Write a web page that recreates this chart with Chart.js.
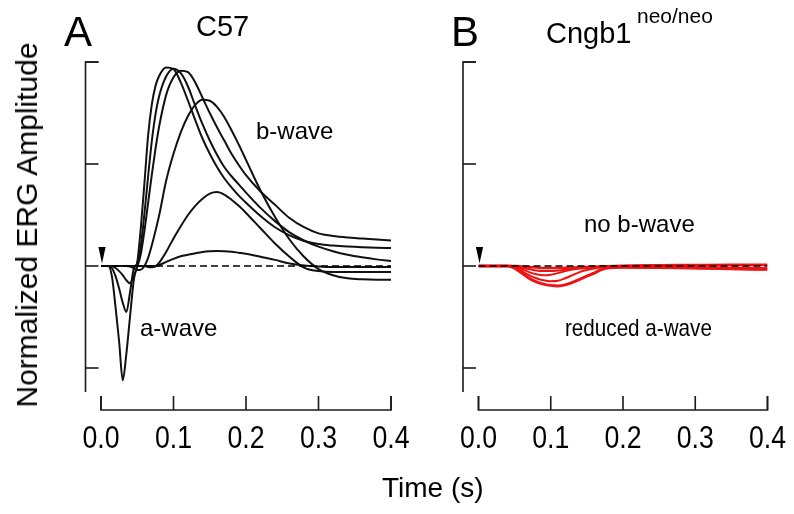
<!DOCTYPE html>
<html><head><meta charset="utf-8">
<script src="https://cdn.jsdelivr.net/npm/chart.js@4.4.1/dist/chart.umd.min.js"></script>
<style>
html,body{margin:0;padding:0;background:#fff;}
#wrap{position:relative;width:794px;height:514px;overflow:hidden;font-family:"Liberation Sans",Arial,sans-serif;color:#000;}
canvas{position:absolute;left:0;top:0;}
.t{position:absolute;white-space:nowrap;line-height:1;}
</style></head><body>
<div id="wrap">
<canvas id="cA" width="794" height="514"></canvas>
<canvas id="cB" width="794" height="514"></canvas>
<div class="t" style="left:64px;top:11px;font-size:42px">A</div>
<div class="t" style="left:196px;top:12px;font-size:29px">C57</div>
<div class="t" style="left:451px;top:11px;font-size:42px">B</div>
<div class="t" style="left:546px;top:19px;font-size:29px">Cngb1</div>
<div class="t" style="left:637px;top:5px;font-size:21px">neo/neo</div>
<div class="t" style="left:256px;top:119px;font-size:24px">b-wave</div>
<div class="t" style="left:140px;top:316px;font-size:24px">a-wave</div>
<div class="t" style="left:584px;top:212px;font-size:24px">no b-wave</div>
<div class="t" style="left:565px;top:316px;font-size:24px;transform:scaleX(0.86);transform-origin:0 0;">reduced a-wave</div>
<div class="t" style="left:382px;top:474px;font-size:28px">Time (s)</div>
<div class="t" style="left:26.6px;top:225px;font-size:30px;transform:translate(-50%,-50%) rotate(-90deg);">Normalized ERG Amplitude</div>
</div>
<script>
// ---- data ----
const xTicks = [0, 0.1, 0.2, 0.3, 0.4];
const xTickLabels = ['0.0', '0.1', '0.2', '0.3', '0.4'];
const yTicks = [-1, 0, 1, 2];
const stimTime = 0;
const baselineT = [0, 0.4];
const baselineV = [0, 0];

// Panel A: C57 (time in s, normalized amplitude)
const tA = [0, 0.01, 0.015, 0.02, 0.025, 0.03, 0.035, 0.04, 0.045, 0.05,
  0.055, 0.06, 0.065, 0.07, 0.075, 0.08, 0.09, 0.10, 0.11, 0.12,
  0.13, 0.14, 0.15, 0.16, 0.17, 0.18, 0.19, 0.20,
  0.22, 0.24, 0.26, 0.28, 0.30, 0.32, 0.34, 0.36, 0.38, 0.40];
const c57_1 = [0, 0, -0.10, -0.40, -0.74, -1.12, -0.86, -0.50, -0.15, 0.03,
  0.38, 0.82, 1.28, 1.58, 1.76, 1.86, 1.945, 1.93, 1.80, 1.62,
  1.43, 1.25, 1.10, 0.97, 0.86, 0.77, 0.69, 0.62,
  0.49, 0.38, 0.30, 0.245, 0.215, 0.20, 0.19, 0.183, 0.178, 0.176];
const c57_2 = [0, 0, -0.02, -0.10, -0.22, -0.36, -0.45, -0.26, -0.03, 0.03,
  0.20, 0.52, 0.88, 1.22, 1.48, 1.66, 1.86, 1.935, 1.89, 1.76,
  1.57, 1.39, 1.23, 1.09, 0.97, 0.88, 0.80, 0.72,
  0.57, 0.44, 0.33, 0.25, 0.19, 0.145, 0.11, 0.085, 0.065, 0.05];
const c57_3 = [0, 0, 0, -0.02, -0.05, -0.09, -0.14, -0.17, -0.10, -0.01,
  0.12, 0.35, 0.62, 0.89, 1.14, 1.36, 1.68, 1.85, 1.915, 1.90,
  1.80, 1.65, 1.50, 1.36, 1.23, 1.10, 0.99, 0.89,
  0.73, 0.60, 0.47, 0.38, 0.32, 0.295, 0.28, 0.27, 0.26, 0.25];
const c57_4 = [0, 0, 0, 0, 0, 0, 0, -0.005, -0.02, -0.04,
  -0.035, 0.0, 0.08, 0.20, 0.34, 0.49, 0.84, 1.10, 1.31, 1.47,
  1.58, 1.63, 1.62, 1.56, 1.46, 1.33, 1.19, 1.04,
  0.74, 0.48, 0.26, 0.09, -0.03, -0.09, -0.12, -0.13, -0.134, -0.134];
const c57_5 = [0, 0, 0, 0, 0, 0, 0, 0, 0, 0,
  0, 0, -0.01, -0.012, -0.005, 0.03, 0.14, 0.27, 0.39, 0.50,
  0.59, 0.66, 0.71, 0.725, 0.70, 0.65, 0.59, 0.52,
  0.37, 0.22, 0.09, -0.015, -0.05, -0.06, -0.06, -0.06, -0.06, -0.06];
const c57_6 = [0, 0, 0, 0, 0, 0, 0, 0, 0, 0,
  0, 0, 0, 0, 0, 0.01, 0.04, 0.07, 0.095, 0.11,
  0.125, 0.138, 0.145, 0.147, 0.145, 0.14, 0.13, 0.12,
  0.09, 0.06, 0.025, 0.005, -0.005, -0.01, -0.01, -0.01, -0.01, -0.01];

// Panel B: Cngb1 neo/neo
const tB = [0, 0.02, 0.04, 0.05, 0.06, 0.07, 0.08, 0.09, 0.10, 0.11, 0.12,
  0.13, 0.14, 0.15, 0.16, 0.17, 0.18, 0.20, 0.25, 0.30, 0.35, 0.40];
const cng_1 = [0, 0, 0, -0.02, -0.07, -0.12, -0.155, -0.178, -0.19, -0.195, -0.185,
  -0.16, -0.13, -0.10, -0.07, -0.035, -0.018, -0.012, -0.015, -0.02, -0.025, -0.03];
const cng_2 = [0, 0, 0, -0.01, -0.05, -0.09, -0.12, -0.14, -0.15, -0.145, -0.12,
  -0.09, -0.06, -0.04, -0.025, -0.015, -0.01, -0.008, -0.01, -0.012, -0.015, -0.02];
const cng_3 = [0, 0, 0, -0.005, -0.03, -0.06, -0.08, -0.09, -0.085, -0.07, -0.05,
  -0.035, -0.025, -0.02, -0.015, -0.01, -0.005, 0, 0.005, 0.008, 0.01, 0.01];
const cng_4 = [0, 0, 0, 0, -0.015, -0.03, -0.045, -0.05, -0.05, -0.045, -0.035,
  -0.025, -0.018, -0.012, -0.008, -0.005, 0, 0.005, 0.01, 0.012, 0.015, 0.015];
const cng_5 = [0, 0, 0, 0, -0.005, -0.01, -0.015, -0.02, -0.02, -0.02, -0.018,
  -0.015, -0.012, -0.01, -0.008, -0.005, -0.005, -0.01, -0.015, -0.02, -0.03, -0.035];

// ---- helpers ----
const pts = (ts, vs) => ts.map((t, i) => ({x: t, y: vs[i]}));
const FONT = '"Liberation Sans", Arial, sans-serif';

const deco = {
  id: 'deco',
  afterDraw(chart, args, o) {
    const ctx = chart.ctx, xs = chart.scales.x, ys = chart.scales.y, ca = chart.chartArea;
    ctx.save();
    ctx.strokeStyle = '#1a1a1a';
    ctx.lineWidth = 1.6;
    ctx.lineJoin = 'miter';
    // y axis
    const ax = ca.left - o.yGap;
    const top = ys.getPixelForValue(yTicks[yTicks.length - 1]);
    ctx.beginPath();
    ctx.moveTo(ax + o.yTick, top); ctx.lineTo(ax, top); ctx.lineTo(ax, ca.bottom - 1.5);
    ctx.stroke();
    yTicks.forEach(v => {
      const p = ys.getPixelForValue(v);
      ctx.beginPath(); ctx.moveTo(ax, p); ctx.lineTo(ax + o.yTick, p); ctx.stroke();
    });
    // x axis
    const ay = ca.bottom + o.xGap;
    const x0 = xs.getPixelForValue(xTicks[0]), x1 = xs.getPixelForValue(xTicks[xTicks.length - 1]);
    ctx.beginPath();
    ctx.moveTo(x0, ay - o.xTick); ctx.lineTo(x0, ay); ctx.lineTo(x1, ay); ctx.lineTo(x1, ay - o.xTick);
    ctx.stroke();
    xTicks.forEach(v => {
      const p = xs.getPixelForValue(v);
      ctx.beginPath(); ctx.moveTo(p, ay); ctx.lineTo(p, ay - o.xTick); ctx.stroke();
    });
    ctx.fillStyle = '#000';
    ctx.font = '31px ' + FONT;
    ctx.textAlign = 'center';
    ctx.textBaseline = 'alphabetic';
    xTicks.forEach((v, i) => {
      ctx.save();
      ctx.translate(xs.getPixelForValue(v), ay + 37.5);
      ctx.scale(0.86, 1);
      ctx.fillText(xTickLabels[i], 0, 0);
      ctx.restore();
    });
    // stimulus marker
    const sx = xs.getPixelForValue(stimTime) + 1, sy = ys.getPixelForValue(0);
    ctx.beginPath();
    ctx.moveTo(sx - 3.6, sy - 19); ctx.lineTo(sx + 3.6, sy - 19); ctx.lineTo(sx, sy - 2.5);
    ctx.closePath(); ctx.fill();
    ctx.restore();
  }
};

function lineDs(ts, vs, color, width) {
  return {data: pts(ts, vs), borderColor: color, borderWidth: width, pointRadius: 0,
    fill: false, cubicInterpolationMode: 'monotone'};
}
function baseDs() {
  return {data: pts(baselineT, baselineV), borderColor: '#000', borderWidth: 1.5,
    borderDash: [7, 4], pointRadius: 0, fill: false};
}
function makeChart(id, datasets, padLeft, padRight) {
  return new Chart(document.getElementById(id), {
    type: 'line',
    data: {datasets},
    options: {
      responsive: false, animation: false, events: [],
      layout: {padding: {left: padLeft, right: padRight, top: 62, bottom: 120.5}},
      plugins: {legend: {display: false}, tooltip: {enabled: false},
        deco: {yGap: 15.5, yTick: 13, xGap: 16.5, xTick: 14}},
      scales: {
        x: {type: 'linear', min: 0, max: 0.4, display: false},
        y: {type: 'linear', min: -1.25, max: 2.0, display: false}
      }
    },
    plugins: [deco]
  });
}

const BLACK = '#111';
const RED = 'rgb(238,18,18)';
makeChart('cA', [
  baseDs(),
  lineDs(tA, c57_1, BLACK, 2), lineDs(tA, c57_2, BLACK, 2), lineDs(tA, c57_3, BLACK, 2),
  lineDs(tA, c57_4, BLACK, 2), lineDs(tA, c57_5, BLACK, 2), lineDs(tA, c57_6, BLACK, 2)
], 101, 794 - 391);
makeChart('cB', [
  baseDs(),
  lineDs(tB, cng_1, RED, 3), lineDs(tB, cng_2, RED, 2), lineDs(tB, cng_3, RED, 2),
  lineDs(tB, cng_4, RED, 2), lineDs(tB, cng_5, RED, 2.5)
], 478.5, 794 - 767.5);
</script>
</body></html>
